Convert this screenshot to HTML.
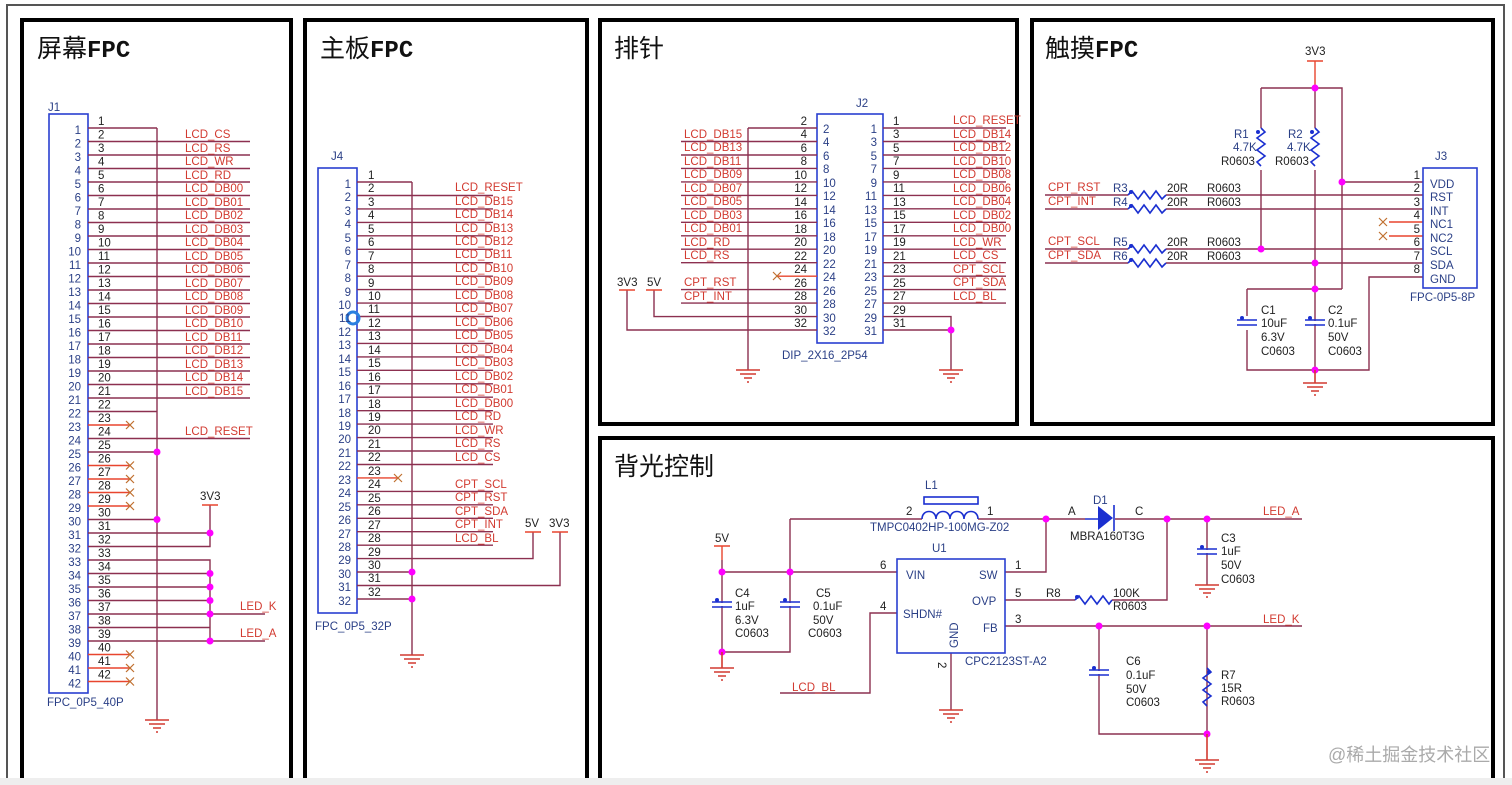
<!DOCTYPE html>
<html><head><meta charset="utf-8"><style>
html,body{margin:0;padding:0;background:#fff;width:1512px;height:785px;overflow:hidden}
svg{display:block}
text{font-family:"Liberation Sans","Noto Sans CJK SC",sans-serif;font-size:11.5px}
.k{fill:#222}.b{fill:#2a3f86}.r{fill:#d23a30}.t{font-size:25px;fill:#111}
.w{stroke:#8c3050;stroke-width:1.4;fill:none}
.s{stroke:#e8452e;stroke-width:1.4;fill:none}
.bx{stroke:#2a3fd0;stroke-width:1.6;fill:none}
.bl{stroke:#1a2fd0;stroke-width:1.6;fill:none}
.d{fill:#f0f}
.x{stroke:#c07030;stroke-width:1.2}
.g{stroke:#d23a30;stroke-width:1.6}
.e{text-anchor:end}
</style></head><body>
<svg width="1512" height="785" viewBox="0 0 1512 785">
<rect x="7" y="5" width="1497" height="790" fill="none" stroke="#555" stroke-width="2"/>
<g fill="none" stroke="#000" stroke-width="4">
<rect x="22" y="20" width="269" height="780"/>
<rect x="305" y="20" width="282" height="780"/>
<rect x="600" y="20" width="417" height="404"/>
<rect x="1032" y="20" width="461" height="404"/>
<rect x="600" y="438" width="893" height="360"/>
</g>
<rect x="0" y="778" width="1512" height="7" fill="#eee"/>
<text class="t" x="37" y="57">屏幕<tspan font-family="Liberation Mono" font-weight="bold" font-size="24">FPC</tspan></text>
<text class="t" x="320" y="57">主板<tspan font-family="Liberation Mono" font-weight="bold" font-size="24">FPC</tspan></text>
<text class="t" x="614" y="57">排针</text>
<text class="t" x="1045" y="57">触摸<tspan font-family="Liberation Mono" font-weight="bold" font-size="24">FPC</tspan></text>
<text class="t" x="614" y="475">背光控制</text>

<!-- J1 -->
<text class="b" x="48" y="111">J1</text>
<rect class="bx" x="49" y="114" width="39" height="579"/>
<text class="b" x="47" y="706">FPC_0P5_40P</text>
<path class="w" d="M157 128V720M88 128H157M88 141.5H250M88 155H250M88 168.5H250M88 182H250M88 195.5H250M88 209H250M88 222.5H250M88 236H250M88 249.5H250M88 263H250M88 276.5H250M88 290H250M88 303.5H250M88 317H250M88 330.5H250M88 344H250M88 357.5H250M88 371H250M88 384.5H250M88 398H250M88 411.5H157M88 438.5H250M88 452H157M88 519.5H157M88 533H210M88 546.5H210V533M210 505V533M88 560H210V641M88 573.5H210M88 587H210M88 600.5H210M88 614H265M88 627.5H210M88 641H265"/>
<path class="s" d="M88 425H130M88 465.5H130M88 479H130M88 492.5H130M88 506H130M88 654.5H130M88 668H130M88 681.5H130M202 505H218"/>
<g class="x"><path d="M126 421l8 8M134 421l-8 8M126 461.5l8 8M134 461.5l-8 8M126 475l8 8M134 475l-8 8M126 488.5l8 8M134 488.5l-8 8M126 502l8 8M134 502l-8 8M126 650.5l8 8M134 650.5l-8 8M126 664l8 8M134 664l-8 8M126 677.5l8 8M134 677.5l-8 8"/></g>
<g class="d"><circle cx="157" cy="452" r="3.5"/><circle cx="157" cy="519.5" r="3.5"/><circle cx="210" cy="533" r="3.5"/><circle cx="210" cy="573.5" r="3.5"/><circle cx="210" cy="587" r="3.5"/><circle cx="210" cy="600.5" r="3.5"/><circle cx="210" cy="614" r="3.5"/><circle cx="210" cy="641" r="3.5"/></g>
<path class="g" d="M145 720h24M149 724h16M153 728h8M156 732h2"/>
<text class="k" x="200" y="500">3V3</text>
<text class="r" x="240" y="610">LED_K</text><text class="r" x="240" y="637">LED_A</text>
<g class="r"><text x="185" y="138">LCD_CS</text><text x="185" y="152">LCD_RS</text><text x="185" y="165">LCD_WR</text><text x="185" y="179">LCD_RD</text><text x="185" y="192">LCD_DB00</text><text x="185" y="206">LCD_DB01</text><text x="185" y="219">LCD_DB02</text><text x="185" y="233">LCD_DB03</text><text x="185" y="246">LCD_DB04</text><text x="185" y="260">LCD_DB05</text><text x="185" y="273">LCD_DB06</text><text x="185" y="287">LCD_DB07</text><text x="185" y="300">LCD_DB08</text><text x="185" y="314">LCD_DB09</text><text x="185" y="327">LCD_DB10</text><text x="185" y="341">LCD_DB11</text><text x="185" y="354">LCD_DB12</text><text x="185" y="368">LCD_DB13</text><text x="185" y="381">LCD_DB14</text><text x="185" y="395">LCD_DB15</text><text x="185" y="435">LCD_RESET</text></g>
<g class="b e"><text x="81" y="134">1</text><text x="81" y="147.5">2</text><text x="81" y="161">3</text><text x="81" y="174.5">4</text><text x="81" y="188">5</text><text x="81" y="201.5">6</text><text x="81" y="215">7</text><text x="81" y="228.5">8</text><text x="81" y="242">9</text><text x="81" y="255.5">10</text><text x="81" y="269">11</text><text x="81" y="282.5">12</text><text x="81" y="296">13</text><text x="81" y="309.5">14</text><text x="81" y="323">15</text><text x="81" y="336.5">16</text><text x="81" y="350">17</text><text x="81" y="363.5">18</text><text x="81" y="377">19</text><text x="81" y="390.5">20</text><text x="81" y="404">21</text><text x="81" y="417.5">22</text><text x="81" y="431">23</text><text x="81" y="444.5">24</text><text x="81" y="458">25</text><text x="81" y="471.5">26</text><text x="81" y="485">27</text><text x="81" y="498.5">28</text><text x="81" y="512">29</text><text x="81" y="525.5">30</text><text x="81" y="539">31</text><text x="81" y="552.5">32</text><text x="81" y="566">33</text><text x="81" y="579.5">34</text><text x="81" y="593">35</text><text x="81" y="606.5">36</text><text x="81" y="620">37</text><text x="81" y="633.5">38</text><text x="81" y="647">39</text><text x="81" y="660.5">40</text><text x="81" y="674">41</text><text x="81" y="687.5">42</text></g>
<g class="k"><text x="98" y="125">1</text><text x="98" y="138.5">2</text><text x="98" y="152">3</text><text x="98" y="165.5">4</text><text x="98" y="179">5</text><text x="98" y="192.5">6</text><text x="98" y="206">7</text><text x="98" y="219.5">8</text><text x="98" y="233">9</text><text x="98" y="246.5">10</text><text x="98" y="260">11</text><text x="98" y="273.5">12</text><text x="98" y="287">13</text><text x="98" y="300.5">14</text><text x="98" y="314">15</text><text x="98" y="327.5">16</text><text x="98" y="341">17</text><text x="98" y="354.5">18</text><text x="98" y="368">19</text><text x="98" y="381.5">20</text><text x="98" y="395">21</text><text x="98" y="408.5">22</text><text x="98" y="422">23</text><text x="98" y="435.5">24</text><text x="98" y="449">25</text><text x="98" y="462.5">26</text><text x="98" y="476">27</text><text x="98" y="489.5">28</text><text x="98" y="503">29</text><text x="98" y="516.5">30</text><text x="98" y="530">31</text><text x="98" y="543.5">32</text><text x="98" y="557">33</text><text x="98" y="570.5">34</text><text x="98" y="584">35</text><text x="98" y="597.5">36</text><text x="98" y="611">37</text><text x="98" y="624.5">38</text><text x="98" y="638">39</text><text x="98" y="651.5">40</text><text x="98" y="665">41</text><text x="98" y="678.5">42</text></g>

<!-- J4 -->
<text class="b" x="331" y="160">J4</text>
<rect class="bx" x="318" y="168" width="39" height="445"/>
<text class="b" x="315" y="630">FPC_0P5_32P</text>
<path class="w" d="M412 182V655M357 182H412M357 195.5H493M357 208.9H493M357 222.4H493M357 235.8H493M357 249.3H493M357 262.7H493M357 276.2H493M357 289.6H493M357 303.1H493M357 316.5H493M357 330H493M357 343.4H493M357 356.9H493M357 370.3H493M357 383.8H493M357 397.2H493M357 410.7H493M357 424.1H493M357 437.6H493M357 451H493M357 464.5H493M357 491.4H493M357 504.8H493M357 518.3H493M357 531.7H493M357 545.2H493M357 558.6H533V532M357 572H412M357 585.5H560V532M357 599H412"/>
<path class="s" d="M357 477.9H398M525 532h16M552 532h16"/>
<path class="x" d="M394 474l8 8M402 474l-8 8"/>
<g class="d"><circle cx="412" cy="572" r="3.5"/><circle cx="412" cy="599" r="3.5"/></g>
<circle cx="353" cy="318" r="6" fill="none" stroke="#2a7fe0" stroke-width="3"/>
<path class="g" d="M400 655h24M404 659h16M408 663h8M411 667h2"/>
<text class="k" x="525" y="527">5V</text><text class="k" x="549" y="527">3V3</text>
<g class="r"><text x="455" y="191">LCD_RESET</text><text x="455" y="205">LCD_DB15</text><text x="455" y="218">LCD_DB14</text><text x="455" y="232">LCD_DB13</text><text x="455" y="245">LCD_DB12</text><text x="455" y="258">LCD_DB11</text><text x="455" y="272">LCD_DB10</text><text x="455" y="285">LCD_DB09</text><text x="455" y="299">LCD_DB08</text><text x="455" y="312">LCD_DB07</text><text x="455" y="326">LCD_DB06</text><text x="455" y="339">LCD_DB05</text><text x="455" y="353">LCD_DB04</text><text x="455" y="366">LCD_DB03</text><text x="455" y="380">LCD_DB02</text><text x="455" y="393">LCD_DB01</text><text x="455" y="407">LCD_DB00</text><text x="455" y="420">LCD_RD</text><text x="455" y="434">LCD_WR</text><text x="455" y="447">LCD_RS</text><text x="455" y="461">LCD_CS</text><text x="455" y="488">CPT_SCL</text><text x="455" y="501">CPT_RST</text><text x="455" y="515">CPT_SDA</text><text x="455" y="528">CPT_INT</text><text x="455" y="542">LCD_BL</text></g>
<g class="b e"><text x="351" y="188">1</text><text x="351" y="201">2</text><text x="351" y="215">3</text><text x="351" y="228">4</text><text x="351" y="242">5</text><text x="351" y="255">6</text><text x="351" y="269">7</text><text x="351" y="282">8</text><text x="351" y="296">9</text><text x="351" y="309">10</text><text x="351" y="322">11</text><text x="351" y="336">12</text><text x="351" y="349">13</text><text x="351" y="363">14</text><text x="351" y="376">15</text><text x="351" y="390">16</text><text x="351" y="403">17</text><text x="351" y="417">18</text><text x="351" y="430">19</text><text x="351" y="443">20</text><text x="351" y="457">21</text><text x="351" y="470">22</text><text x="351" y="484">23</text><text x="351" y="497">24</text><text x="351" y="511">25</text><text x="351" y="524">26</text><text x="351" y="538">27</text><text x="351" y="551">28</text><text x="351" y="564">29</text><text x="351" y="578">30</text><text x="351" y="591">31</text><text x="351" y="605">32</text></g>
<g class="k"><text x="368" y="179">1</text><text x="368" y="192">2</text><text x="368" y="206">3</text><text x="368" y="219">4</text><text x="368" y="233">5</text><text x="368" y="246">6</text><text x="368" y="260">7</text><text x="368" y="273">8</text><text x="368" y="287">9</text><text x="368" y="300">10</text><text x="368" y="313">11</text><text x="368" y="327">12</text><text x="368" y="340">13</text><text x="368" y="354">14</text><text x="368" y="367">15</text><text x="368" y="381">16</text><text x="368" y="394">17</text><text x="368" y="408">18</text><text x="368" y="421">19</text><text x="368" y="434">20</text><text x="368" y="448">21</text><text x="368" y="461">22</text><text x="368" y="475">23</text><text x="368" y="488">24</text><text x="368" y="502">25</text><text x="368" y="515">26</text><text x="368" y="529">27</text><text x="368" y="542">28</text><text x="368" y="556">29</text><text x="368" y="569">30</text><text x="368" y="582">31</text><text x="368" y="596">32</text></g>

<!-- J2 -->
<text class="b" x="856" y="107">J2</text>
<rect class="bx" x="817" y="114" width="66" height="229"/>
<text class="b" x="782" y="359">DIP_2X16_2P54</text>
<path class="w" d="M748 128V370M748 128H817M681 141.5H817M681 155H817M681 168.4H817M681 181.9H817M681 195.4H817M681 208.8H817M681 222.3H817M681 235.8H817M681 249.2H817M681 262.7H817M681 289.6H817M681 303.1H817M654 290V316.6H817M627 290V330H817M883 128H1006M883 141.5H1006M883 155H1006M883 168.4H1006M883 181.9H1006M883 195.4H1006M883 208.8H1006M883 222.3H1006M883 235.8H1006M883 249.2H1006M883 262.7H1006M883 276.2H1006M883 289.6H1006M883 303.1H1006M883 316.6H951V370M883 330H951"/>
<path class="s" d="M777 276.2H817M619 290h16M646 290h16"/>
<path class="x" d="M773 272l8 8M781 272l-8 8"/>
<circle class="d" cx="951" cy="330" r="3.5"/>
<path class="g" d="M736 370h24M740 374h16M744 378h8M747 382h2M939 370h24M943 374h16M947 378h8M950 382h2"/>
<text class="k" x="617" y="286">3V3</text><text class="k" x="647" y="286">5V</text>
<g class="r"><text x="684" y="138">LCD_DB15</text><text x="684" y="151">LCD_DB13</text><text x="684" y="165">LCD_DB11</text><text x="684" y="178">LCD_DB09</text><text x="684" y="192">LCD_DB07</text><text x="684" y="205">LCD_DB05</text><text x="684" y="219">LCD_DB03</text><text x="684" y="232">LCD_DB01</text><text x="684" y="246">LCD_RD</text><text x="684" y="259">LCD_RS</text><text x="684" y="286">CPT_RST</text><text x="684" y="300">CPT_INT</text>
<text x="953" y="124">LCD_RESET</text><text x="953" y="138">LCD_DB14</text><text x="953" y="151">LCD_DB12</text><text x="953" y="165">LCD_DB10</text><text x="953" y="178">LCD_DB08</text><text x="953" y="192">LCD_DB06</text><text x="953" y="205">LCD_DB04</text><text x="953" y="219">LCD_DB02</text><text x="953" y="232">LCD_DB00</text><text x="953" y="246">LCD_WR</text><text x="953" y="259">LCD_CS</text><text x="953" y="273">CPT_SCL</text><text x="953" y="286">CPT_SDA</text><text x="953" y="300">LCD_BL</text></g>
<g class="k e"><text x="807" y="125">2</text><text x="807" y="138">4</text><text x="807" y="152">6</text><text x="807" y="165">8</text><text x="807" y="179">10</text><text x="807" y="192">12</text><text x="807" y="206">14</text><text x="807" y="219">16</text><text x="807" y="233">18</text><text x="807" y="246">20</text><text x="807" y="260">22</text><text x="807" y="273">24</text><text x="807" y="287">26</text><text x="807" y="300">28</text><text x="807" y="314">30</text><text x="807" y="327">32</text></g>
<g class="k"><text x="893" y="125">1</text><text x="893" y="138">3</text><text x="893" y="152">5</text><text x="893" y="165">7</text><text x="893" y="179">9</text><text x="893" y="192">11</text><text x="893" y="206">13</text><text x="893" y="219">15</text><text x="893" y="233">17</text><text x="893" y="246">19</text><text x="893" y="260">21</text><text x="893" y="273">23</text><text x="893" y="287">25</text><text x="893" y="300">27</text><text x="893" y="314">29</text><text x="893" y="327">31</text></g>
<g class="b"><text x="823" y="133">2</text><text x="823" y="146">4</text><text x="823" y="160">6</text><text x="823" y="173">8</text><text x="823" y="187">10</text><text x="823" y="200">12</text><text x="823" y="214">14</text><text x="823" y="227">16</text><text x="823" y="241">18</text><text x="823" y="254">20</text><text x="823" y="268">22</text><text x="823" y="281">24</text><text x="823" y="295">26</text><text x="823" y="308">28</text><text x="823" y="322">30</text><text x="823" y="335">32</text></g>
<g class="b e"><text x="877" y="133">1</text><text x="877" y="146">3</text><text x="877" y="160">5</text><text x="877" y="173">7</text><text x="877" y="187">9</text><text x="877" y="200">11</text><text x="877" y="214">13</text><text x="877" y="227">15</text><text x="877" y="241">17</text><text x="877" y="254">19</text><text x="877" y="268">21</text><text x="877" y="281">23</text><text x="877" y="295">25</text><text x="877" y="308">27</text><text x="877" y="322">29</text><text x="877" y="335">31</text></g>

<!-- Touch -->
<text class="k" x="1305" y="55">3V3</text>
<path class="s" d="M1307 61h16M1315 61V88"/>
<path class="w" d="M1261 88H1342V289M1261 88V128M1261 170V249M1315 88V128M1315 170V370M1045 195H1128M1166 195H1423M1045 209H1128M1166 209H1423M1045 249H1128M1166 249H1423M1045 263H1128M1166 263H1423M1342 182H1423M1247 289H1342M1247 289V316M1247 330V370H1369V277H1423"/>
<path class="s" d="M1389 222H1423M1389 236H1423"/>
<path class="x" d="M1379 218l8 8M1387 218l-8 8M1379 232l8 8M1387 232l-8 8"/>
<g class="bl"><path d="M1261 128l4 4-8 6 8 6-8 6 8 6-8 6 4 4M1315 128l4 4-8 6 8 6-8 6 8 6-8 6 4 4M1128 195l4-4 6 8 6-8 6 8 6-8 6 8 4-4M1128 209l4-4 6 8 6-8 6 8 6-8 6 8 4-4M1128 249l4-4 6 8 6-8 6 8 6-8 6 8 4-4M1128 263l4-4 6 8 6-8 6 8 6-8 6 8 4-4M1237 320h20M1237 325h20M1305 320h20M1305 325h20"/></g>
<rect fill="#fff" x="1237" y="321" width="20" height="3"/><rect fill="#fff" x="1305" y="321" width="20" height="3"/>
<g fill="#1a2fd0"><circle cx="1258" cy="132" r="2"/><circle cx="1312" cy="132" r="2"/><circle cx="1131" cy="192" r="2"/><circle cx="1131" cy="206" r="2"/><circle cx="1131" cy="246" r="2"/><circle cx="1131" cy="260" r="2"/><circle cx="1242" cy="318" r="2"/><circle cx="1310" cy="318" r="2"/></g>
<g class="d"><circle cx="1315" cy="88" r="3.5"/><circle cx="1342" cy="182" r="3.5"/><circle cx="1261" cy="249" r="3.5"/><circle cx="1315" cy="263" r="3.5"/><circle cx="1315" cy="289" r="3.5"/><circle cx="1315" cy="370" r="3.5"/></g>
<path class="g" d="M1303 383h24M1307 387h16M1311 391h8M1314 395h2M1315 370v13"/>
<rect class="bx" x="1423" y="168" width="54" height="120"/>
<text class="b" x="1435" y="160">J3</text><text class="b" x="1410" y="301">FPC-0P5-8P</text>
<g class="b"><text x="1430" y="188">VDD</text><text x="1430" y="201">RST</text><text x="1430" y="215">INT</text><text x="1430" y="228">NC1</text><text x="1430" y="242">NC2</text><text x="1430" y="255">SCL</text><text x="1430" y="269">SDA</text><text x="1430" y="283">GND</text>
<text x="1234" y="138">R1</text><text x="1233" y="151">4.7K</text><text x="1288" y="138">R2</text><text x="1287" y="151">4.7K</text>
<text x="1113" y="192">R3</text><text x="1113" y="206">R4</text><text x="1113" y="246">R5</text><text x="1113" y="260">R6</text></g>
<g class="k e"><text x="1420" y="179">1</text><text x="1420" y="192">2</text><text x="1420" y="206">3</text><text x="1420" y="219">4</text><text x="1420" y="233">5</text><text x="1420" y="246">6</text><text x="1420" y="260">7</text><text x="1420" y="273">8</text></g>
<g class="k"><text x="1221" y="165">R0603</text><text x="1275" y="165">R0603</text>
<text x="1167" y="192">20R</text><text x="1207" y="192">R0603</text><text x="1167" y="206">20R</text><text x="1207" y="206">R0603</text><text x="1167" y="246">20R</text><text x="1207" y="246">R0603</text><text x="1167" y="260">20R</text><text x="1207" y="260">R0603</text>
<text x="1261" y="314">C1</text><text x="1261" y="327">10uF</text><text x="1261" y="341">6.3V</text><text x="1261" y="355">C0603</text><text x="1328" y="314">C2</text><text x="1328" y="327">0.1uF</text><text x="1328" y="341">50V</text><text x="1328" y="355">C0603</text></g>
<g class="r"><text x="1048" y="191">CPT_RST</text><text x="1048" y="205">CPT_INT</text><text x="1048" y="245">CPT_SCL</text><text x="1048" y="259">CPT_SDA</text></g>

<!-- Backlight -->
<path class="w" d="M790 519H922M978 519H1085M1115 519H1302M722 560V652H790V519M722 572H897M1005 572H1046V519M1005 600H1075M1112 600H1167V519M897 613H870V693H780M951 653V710M1005 626H1302M1099 626V734H1207V626M1207 519V585"/>
<path class="s" d="M714 546h16M722 546V560"/>
<rect x="924" y="497" width="54" height="7" class="bl"/>
<path class="bl" d="M922 519c0-10 14-10 14 0c0-10 14-10 14 0c0-10 14-10 14 0c0-10 14-10 14 0"/>
<path d="M1098 506V530L1113 518Z" fill="#1a2fd0"/><path class="bl" d="M1114 505V531M1085 519H1098"/>
<g class="bl"><path d="M712 602h20M712 607h20M780 602h20M780 607h20M1089 670h20M1089 675h20M1197 549h20M1197 554h20M1075 600l4-4 6 8 6-8 6 8 6-8 6 8 3-4M1207 668l4 4-8 6 8 6-8 6 8 6-8 6 4 4"/></g>
<rect fill="#fff" x="712" y="603" width="20" height="3"/><rect fill="#fff" x="780" y="603" width="20" height="3"/><rect fill="#fff" x="1089" y="671" width="20" height="3"/><rect fill="#fff" x="1197" y="550" width="20" height="3"/>
<g fill="#1a2fd0"><circle cx="717" cy="600" r="2"/><circle cx="785" cy="600" r="2"/><circle cx="1094" cy="668" r="2"/><circle cx="1202" cy="547" r="2"/><circle cx="1077" cy="597" r="2"/><circle cx="1209" cy="672" r="2"/></g>
<rect class="bx" x="897" y="559" width="108" height="94"/>
<g class="d"><circle cx="722" cy="572" r="3.5"/><circle cx="790" cy="572" r="3.5"/><circle cx="722" cy="652" r="3.5"/><circle cx="1046" cy="519" r="3.5"/><circle cx="1167" cy="519" r="3.5"/><circle cx="1207" cy="519" r="3.5"/><circle cx="1099" cy="626" r="3.5"/><circle cx="1207" cy="626" r="3.5"/><circle cx="1207" cy="734" r="3.5"/></g>
<path class="g" d="M710 668h24M714 672h16M718 676h8M721 680h2M722 652v16M939 710h24M943 714h16M947 718h8M950 722h2M1195 585h24M1199 589h16M1203 593h8M1206 597h2M1195 760h24M1199 764h16M1203 768h8M1206 772h2M1207 734v26"/>
<g class="b"><text x="925" y="489">L1</text><text x="870" y="531">TMPC0402HP-100MG-Z02</text><text x="932" y="552">U1</text><text x="906" y="579">VIN</text><text x="979" y="579">SW</text><text x="972" y="605">OVP</text><text x="903" y="618">SHDN#</text><text x="983" y="632">FB</text><text transform="translate(958,648) rotate(-90)">GND</text><text x="965" y="665">CPC2123ST-A2</text><text x="1093" y="504">D1</text></g>
<g class="k"><text x="715" y="542">5V</text><text x="906" y="515">2</text><text x="987" y="515">1</text><text x="880" y="569">6</text><text x="880" y="610">4</text><text x="1015" y="569">1</text><text x="1015" y="597">5</text><text x="1015" y="623">3</text><text transform="translate(938,662) rotate(90)">2</text>
<text x="1068" y="515">A</text><text x="1135" y="515">C</text><text x="1070" y="540">MBRA160T3G</text><text x="1046" y="597">R8</text><text x="1113" y="597">100K</text><text x="1113" y="610">R0603</text>
<text x="735" y="597">C4</text><text x="735" y="610">1uF</text><text x="735" y="624">6.3V</text><text x="735" y="637">C0603</text><text x="816" y="597">C5</text><text x="813" y="610">0.1uF</text><text x="813" y="624">50V</text><text x="808" y="637">C0603</text>
<text x="1221" y="542">C3</text><text x="1221" y="555">1uF</text><text x="1221" y="569">50V</text><text x="1221" y="583">C0603</text>
<text x="1126" y="665">C6</text><text x="1126" y="679">0.1uF</text><text x="1126" y="693">50V</text><text x="1126" y="706">C0603</text>
<text x="1221" y="679">R7</text><text x="1221" y="692">15R</text><text x="1221" y="705">R0603</text></g>
<g class="r"><text x="1263" y="515">LED_A</text><text x="1263" y="623">LED_K</text><text x="792" y="691">LCD_BL</text></g>
<text x="1328" y="761" style="font-size:18px;fill:#aaa">@稀土掘金技术社区</text>
</svg>
</body></html>
